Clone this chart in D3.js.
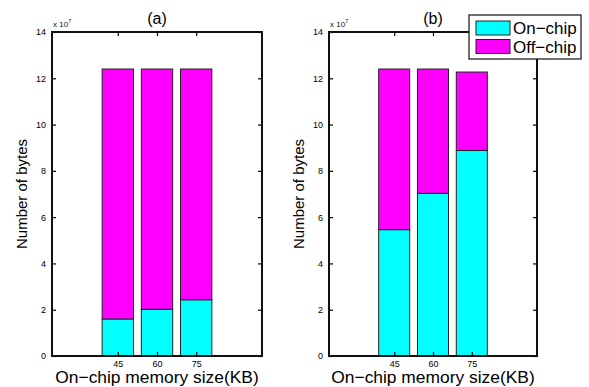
<!DOCTYPE html>
<html>
<head>
<meta charset="utf-8">
<script src="https://cdn.jsdelivr.net/npm/d3@7"></script>
<style>
  body { margin: 0; background: #fff; }
  svg { font-family: 'Liberation Sans', Arial, sans-serif; }
</style>
</head>
<body>
<div id="chart"></div>
<script>
// values in units of 10^7 bytes
const categories = ['45', '60', '75'];
const onChipA = [1.6, 2.02, 2.43];
const offChipA = [10.8, 10.38, 9.97];
const onChipB = [5.46, 7.03, 8.88];
const offChipB = [6.94, 5.37, 3.39];
const yTicks = [0, 2, 4, 6, 8, 10, 12, 14];
const seriesNames = ['On\u2212chip', 'Off\u2212chip'];
const colors = ['#00ffff', '#ff00ff'];

const W = 589, H = 387;
const svg = d3.select('#chart').append('svg')
  .attr('width', W).attr('height', H);

const plotTop = 32, plotBottom = 356;

function drawPanel(left, right, onChip, offChip, title) {
  const g = svg.append('g');
  const x = d3.scaleLinear().domain([-0.68, 4.68]).range([left, right]);
  const y = d3.scaleLinear().domain([0, 14]).range([plotBottom, plotTop]);
  const bw = 0.8;

  const rows = categories.map((c, i) => ({pos: i + 1, on: onChip[i], off: offChip[i]}));

  // stacked bars
  rows.forEach(d => {
    g.append('rect')
      .attr('x', x(d.pos - bw / 2)).attr('width', x(d.pos + bw / 2) - x(d.pos - bw / 2))
      .attr('y', y(d.on)).attr('height', y(0) - y(d.on))
      .attr('fill', colors[0]).attr('stroke', '#222').attr('stroke-width', 1);
    g.append('rect')
      .attr('x', x(d.pos - bw / 2)).attr('width', x(d.pos + bw / 2) - x(d.pos - bw / 2))
      .attr('y', y(d.on + d.off)).attr('height', y(d.on) - y(d.on + d.off))
      .attr('fill', colors[1]).attr('stroke', '#222').attr('stroke-width', 1);
  });

  // y axis left
  const yl = g.append('g')
    .attr('transform', `translate(${left},0)`)
    .call(d3.axisLeft(y).tickValues(yTicks).tickSize(-4).tickPadding(6).tickSizeOuter(0));
  yl.select('.domain').remove();
  yl.selectAll('text').attr('font-size', 9).attr('font-family', 'Liberation Sans, Arial');
  // y axis right ticks
  const yr = g.append('g')
    .attr('transform', `translate(${right},0)`)
    .call(d3.axisRight(y).tickValues(yTicks).tickSize(-4).tickFormat('').tickSizeOuter(0));
  yr.select('.domain').remove();

  // x axis bottom
  const xb = g.append('g')
    .attr('transform', `translate(0,${plotBottom})`)
    .call(d3.axisBottom(x).tickValues([1, 2, 3]).tickFormat(v => categories[v - 1])
      .tickSize(-4).tickPadding(5).tickSizeOuter(0));
  xb.select('.domain').remove();
  xb.selectAll('text').attr('font-size', 9).attr('font-family', 'Liberation Sans, Arial');
  // x axis top ticks
  const xt = g.append('g')
    .attr('transform', `translate(0,${plotTop})`)
    .call(d3.axisTop(x).tickValues([1, 2, 3]).tickSize(-4).tickFormat('').tickSizeOuter(0));
  xt.select('.domain').remove();
  g.selectAll('.tick line').attr('stroke', '#000').attr('stroke-width', 1.2);

  // box
  g.append('rect')
    .attr('x', left).attr('y', plotTop)
    .attr('width', right - left).attr('height', plotBottom - plotTop)
    .attr('fill', 'none').attr('stroke', '#111').attr('stroke-width', 2);

  // exponent
  const ex = g.append('text').attr('x', left + 1).attr('y', 27)
    .attr('font-size', 8).attr('fill', '#111');
  ex.append('tspan').text('x 10');
  ex.append('tspan').attr('dy', -4).attr('font-size', 5.5).text('7');

  // title
  g.append('text').attr('x', (left + right) / 2).attr('y', 24)
    .attr('text-anchor', 'middle').attr('font-size', 16).text(title);

  // axis labels
  g.append('text').attr('x', (left + right) / 2).attr('y', 382.5)
    .attr('text-anchor', 'middle').attr('font-size', 17.4).text('On\u2212chip memory size(KB)');
  g.append('text')
    .attr('transform', `translate(${left - 25},${(plotTop + plotBottom) / 2}) rotate(-90)`)
    .attr('text-anchor', 'middle').attr('font-size', 15).text('Number of bytes');
}

drawPanel(52, 262, onChipA, offChipA, '(a)');
drawPanel(329, 537, onChipB, offChipB, '(b)');

// legend
const lg = svg.append('g');
lg.append('rect').attr('x', 469).attr('y', 15).attr('width', 112).attr('height', 44)
  .attr('fill', '#fff').attr('stroke', '#111').attr('stroke-width', 1.2);
seriesNames.forEach((name, i) => {
  lg.append('rect').attr('x', 476).attr('y', 21 + i * 18.5).attr('width', 34).attr('height', 14)
    .attr('fill', colors[i]).attr('stroke', '#222').attr('stroke-width', 1);
  lg.append('text').attr('x', 513).attr('y', 34 + i * 18.5)
    .attr('font-size', 17).text(name);
});
</script>
</body>
</html>
